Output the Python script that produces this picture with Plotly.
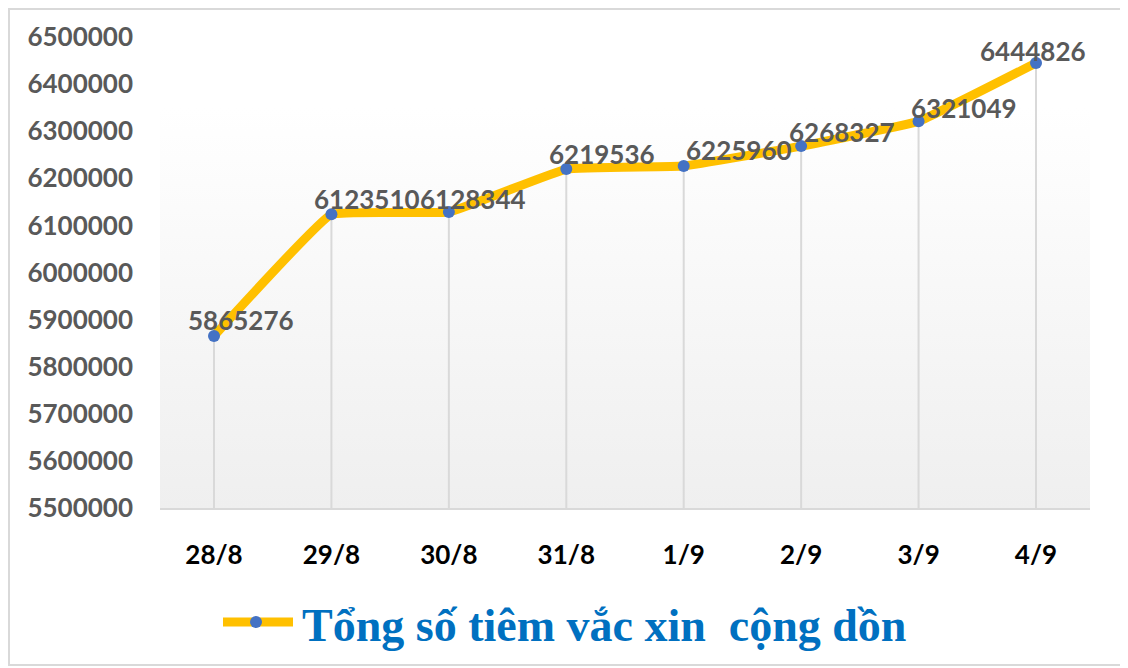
import base64
import plotly.graph_objects as go

# data
dates = ["28/8", "29/8", "30/8", "31/8", "1/9", "2/9", "3/9", "4/9"]
totals = [5865276, 6123510, 6128344, 6219536, 6225960, 6268327, 6321049, 6444826]
series_name = "Tổng số tiêm vắc xin  cộng dồn"

y_min, y_max, y_step = 5500000, 6500000, 100000

# label nudges in px (x, y), the labels sit right/above the points
label_shift = [(27, 16), (36, 15), (24, 13), (36, 15), (55, 16), (41, 14), (45, 13), (-3, 12)]

GOLD = "#FFC000"
BLUE = "#4472C4"
GREY_TXT = "#595959"
GRID = "#D9D9D9"
LEGEND_BLUE = "#0070C0"

# page has an 8px body margin, so the figure is 8px smaller and margins are shifted
W, H = 1120, 660
ML, MR, MT, MB = 152, 38, 29, 160
pw, ph = W - ML - MR, H - MT - MB


def px_x(p):
    return (p - ML) / pw


def px_y(p):
    return (MT + ph - p) / ph


svg = (
    '<svg xmlns="http://www.w3.org/2000/svg" width="100" height="100" preserveAspectRatio="none">'
    '<defs><linearGradient id="g" x1="0" y1="0" x2="0" y2="1">'
    '<stop offset="0" stop-color="#FFFFFF"/><stop offset="0.15" stop-color="#FFFFFF"/>'
    '<stop offset="1" stop-color="#EFEFEF"/></linearGradient></defs>'
    '<rect width="100" height="100" fill="url(#g)"/></svg>'
)
bg_src = "data:image/svg+xml;base64," + base64.b64encode(svg.encode()).decode()

fig = go.Figure()

# drop lines from each point to the axis
fig.add_trace(go.Scatter(
    x=dates, y=totals, mode="markers", marker=dict(size=1, opacity=0),
    error_y=dict(type="data", symmetric=False, array=[0] * len(totals),
                 arrayminus=[v - y_min for v in totals],
                 color=GRID, thickness=2, width=0),
    showlegend=False, hoverinfo="skip",
))

fig.add_trace(go.Scatter(
    x=dates, y=totals, mode="lines+markers", name=series_name,
    line=dict(color=GOLD, width=9, shape="spline", smoothing=0.25),
    marker=dict(color=BLUE, size=12),
    showlegend=False,
))

for d, v, (dx, dy) in zip(dates, totals, label_shift):
    fig.add_annotation(
        x=d, y=v, text=str(v), showarrow=False, xshift=dx, yshift=dy,
        font=dict(family="Lato", size=26, color=GREY_TXT, weight="bold"),
    )

# legend drawn by hand so the key can be as long as in the original
fig.add_annotation(
    xref="paper", yref="paper", x=px_x(292), y=px_y(617), xanchor="left", yanchor="middle",
    text=series_name, showarrow=False,
    font=dict(family="Liberation Serif", size=46, color=LEGEND_BLUE, weight="bold"),
)

shapes = [
    dict(type="rect", xref="paper", yref="paper",
         x0=px_x(1), x1=px_x(W - 3), y0=px_y(H - 3), y1=px_y(1),
         line=dict(color=GRID, width=2), fillcolor="rgba(0,0,0,0)", layer="below"),
    dict(type="line", xref="paper", yref="paper",
         x0=px_x(215), x1=px_x(285), y0=px_y(614), y1=px_y(614),
         line=dict(color=GOLD, width=9)),
    dict(type="circle", xref="paper", yref="paper",
         x0=px_x(242), x1=px_x(254), y0=px_y(620), y1=px_y(608),
         line=dict(width=0), fillcolor=BLUE),
]

fig.update_layout(
    width=W, height=H,
    margin=dict(l=ML, r=MR, t=MT, b=MB),
    paper_bgcolor="white", plot_bgcolor="rgba(0,0,0,0)",
    images=[dict(source=bg_src, xref="paper", yref="paper", x=0, y=1,
                 sizex=1, sizey=1, sizing="stretch", layer="below")],
    showlegend=False,
    shapes=shapes,
)

fig.update_xaxes(
    type="category", showgrid=False, showline=True, linecolor=GRID, linewidth=2,
    ticks="", ticklabelstandoff=23,
    tickfont=dict(family="Lato", size=26, color="black", weight="bold"),
)
fig.update_yaxes(
    range=[y_min, y_max], dtick=y_step, tickformat="d", showgrid=False,
    zeroline=False, showline=False, ticks="", ticklabelstandoff=26,
    tickfont=dict(family="Lato", size=26, color=GREY_TXT, weight="bold"),
)

fig.write_html("out.html")
